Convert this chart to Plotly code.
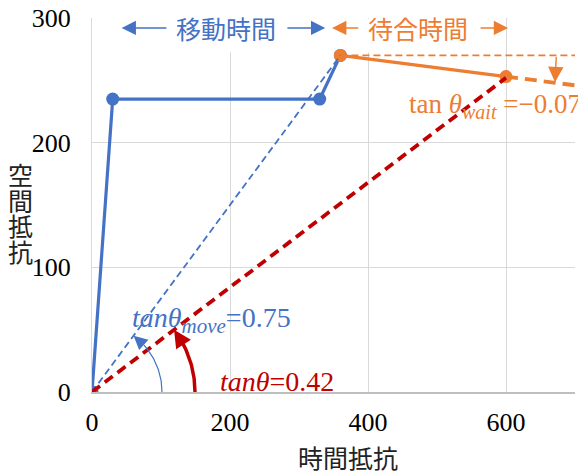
import numpy as np
import plotly.graph_objects as go

# ---- data ----
move_x = [0, 30, 330, 360]
move_y = [0, 235, 235, 270]
wait_x = [360, 600]
wait_y = [270, 253]
tan_all = 0.42
tan_move = 0.75
tan_wait = -0.07
x_ticks = [0, 200, 400, 600]
y_ticks = [0, 100, 200, 300]
x_max = 700
y_max = 300

BLUE = "#4472C4"
ORANGE = "#ED7D31"
RED = "#C00000"
SERIF = "Liberation Serif, Times New Roman, serif"
CJK = "Noto Sans CJK JP"

W, H = 586, 473
OFF = 8  # page body margin offset
# target plot area on screen: left 92, right 575, top 18, bottom 392
ML, MT = 92 - OFF, 18 - OFF
MR, MB = W - (575 - OFF), H - (392 - OFF)
pw, ph = W - ML - MR, H - MT - MB
sx, sy = pw / x_max, ph / y_max


def px2x(px):
    return (px - OFF - ML) / pw


def py2y(py):
    return (H - MB - (py - OFF)) / ph


fig = go.Figure()

# white boxes behind top labels (cover gridlines)
for x0, x1 in [(116, 272), (394, 552)]:
    fig.add_shape(type="rect", x0=x0, x1=x1, y0=272.5, y1=299.3, xref="x", yref="y",
                  fillcolor="white", line=dict(width=0), layer="between")

# solid series
fig.add_trace(go.Scatter(x=move_x, y=move_y, mode="lines+markers",
                         line=dict(color=BLUE, width=3.2),
                         marker=dict(color=BLUE, size=13), showlegend=False))
fig.add_trace(go.Scatter(x=wait_x, y=wait_y, mode="lines+markers",
                         line=dict(color=ORANGE, width=3.2),
                         marker=dict(color=ORANGE, size=13), showlegend=False))

# orange dashed horizontal reference
fig.add_trace(go.Scatter(x=[wait_x[0], x_max], y=[wait_y[0], wait_y[0]], mode="lines",
                         line=dict(color=ORANGE, width=1.8, dash="7px,4px"), showlegend=False))
# orange dashed continuation of waiting slope
fig.add_trace(go.Scatter(x=[wait_x[1], x_max],
                         y=[wait_y[1], wait_y[1] + tan_wait * (x_max - wait_x[1])], mode="lines",
                         line=dict(color=ORANGE, width=3.8, dash="12px,7px"), showlegend=False))
# blue dashed (move slope)
fig.add_trace(go.Scatter(x=[0, move_x[-1]], y=[0, tan_move * move_x[-1]], mode="lines",
                         line=dict(color=BLUE, width=1.8, dash="7px,4px"), showlegend=False))
# red dashed (overall slope)
fig.add_trace(go.Scatter(x=[0, wait_x[1]], y=[0, tan_all * wait_x[1]], mode="lines",
                         line=dict(color=RED, width=3.8, dash="10px,6px"), showlegend=False))


# angle arcs (pixel radius) with arrowheads
def arc(slope, r, width, color, head_len, arrowsize):
    tip = np.arctan(slope * sy / sx)
    tail = tip - head_len / r
    t = np.linspace(0, tail, 40)
    fig.add_trace(go.Scatter(x=r * np.cos(t) / sx, y=r * np.sin(t) / sy, mode="lines",
                             line=dict(color=color, width=width), showlegend=False))
    fig.add_annotation(x=r * np.cos(tip) / sx, y=r * np.sin(tip) / sy,
                       ax=r * np.cos(tail) / sx, ay=r * np.sin(tail) / sy,
                       xref="x", yref="y", axref="x", ayref="y", text="",
                       showarrow=True, arrowhead=2, arrowsize=arrowsize,
                       arrowwidth=width, arrowcolor=color)


arc(tan_move, 70, 1.2, BLUE, 14, 2.3)
arc(tan_all, 103, 3.5, RED, 16, 1.0)

# small orange arrow (wait angle)
xa = 672
fig.add_annotation(x=xa - 1, y=wait_y[1] + tan_wait * (xa - wait_x[1]) + 0.5,
                   ax=xa + 1, ay=wait_y[0], xref="x", yref="y", axref="x", ayref="y",
                   text="", showarrow=True, arrowhead=2, arrowsize=2.2,
                   arrowwidth=1.4, arrowcolor=ORANGE)

# top range arrows
ytop = 292
for tip, tail, col in [(43, 110, BLUE), (338, 281, BLUE), (348, 388, ORANGE), (603, 561, ORANGE)]:
    fig.add_annotation(x=tip, y=ytop, ax=tail, ay=ytop, xref="x", yref="y", axref="x", ayref="y",
                       text="", showarrow=True, arrowhead=2, arrowsize=1.9,
                       arrowwidth=1.5, arrowcolor=col)


def label(px, py, text, font, xanchor="center"):
    fig.add_annotation(x=px2x(px), y=py2y(py), xref="paper", yref="paper", text=text,
                       xanchor=xanchor, yanchor="middle", showarrow=False, font=font)


label(226, 28, "移動時間", dict(family=CJK, size=25, color=BLUE))
label(418, 28, "待合時間", dict(family=CJK, size=25, color=ORANGE))

# slope labels
SUB = "<span style='font-size:{}px'>{}</span>"
label(130, 320, "<i>tanθ</i><sub><i>" + SUB.format(21, "move") + "</i></sub>=0.75",
      dict(family=SERIF, size=28, color=BLUE), "left")
label(218, 381, "<i>tanθ</i>=0.42", dict(family=SERIF, size=28, color=RED), "left")
label(407, 106, "tan <i>θ</i><sub><i>" + SUB.format(20, "wait") + "</i></sub> =−0.07",
      dict(family=SERIF, size=27, color=ORANGE), "left")

# axis titles
label(348, 457, "時間抵抗", dict(family=CJK, size=25, color="#222"))
for i, ch in enumerate("空間抵抗"):
    label(20, 174 + 25.6 * i, ch, dict(family=CJK, size=25, color="#222"))

fig.update_layout(
    width=W, height=H, margin=dict(l=ML, r=MR, t=MT, b=MB, autoexpand=False),
    paper_bgcolor="white", plot_bgcolor="white",
    font=dict(family=SERIF, size=26, color="black"),
)
fig.update_xaxes(range=[0, x_max], tickvals=x_ticks, showgrid=True, gridcolor="#d9d9d9",
                 gridwidth=1.3, zeroline=False, showline=True, linecolor="#bfbfbf", linewidth=1.5,
                 ticks="", ticklabelstandoff=6, ticklabeloverflow="allow",
                 tickfont=dict(family=SERIF, size=26, color="black"))
fig.update_yaxes(range=[0, y_max], tickvals=y_ticks, showgrid=True, gridcolor="#d9d9d9",
                 gridwidth=1.3, zeroline=False, showline=True, linecolor="#d9d9d9", linewidth=1.3,
                 ticks="", ticklabelstandoff=15, ticklabeloverflow="allow",
                 tickfont=dict(family=SERIF, size=26, color="black"))

fig.write_html("out.html")
